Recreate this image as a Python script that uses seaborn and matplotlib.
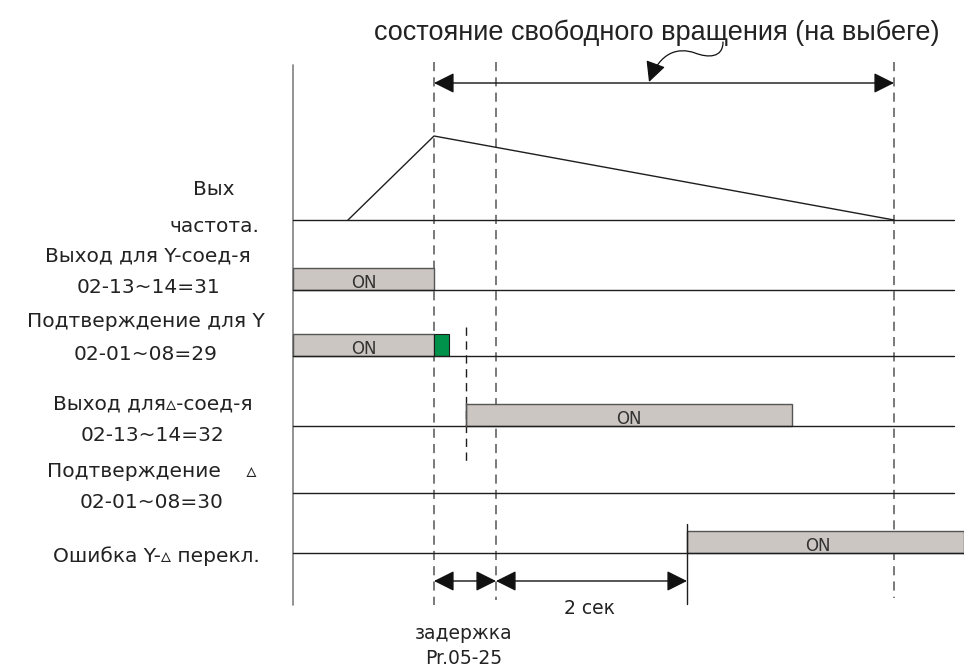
import matplotlib
matplotlib.use("Agg")
import matplotlib.pyplot as plt
from matplotlib.patches import FancyArrowPatch, ArrowStyle
from matplotlib.path import Path
import seaborn as sns
import pandas as pd

# ---------------- data (time in diagram units) ----------------
t_axis_start = 293
t_axis_end = 954
freq_t = [348, 434, 894]          # run start, fault (Y/Δ switch), stop
freq_level = [0.0, 1.0, 0.0]      # normalised output frequency

on_start = [293, 293, 466, 687]   # ON intervals per row (rows 1,2,3,5)
on_end = [434, 434, 792, 964]
on_rows = [1, 2, 3, 5]
green_interval = [434, 449]       # Y-confirm still high (row 2)

t_fault = 434
t_delay_end = 496
t_delta_on = 466
t_fault_flag = 687
t_stop = 894

row_names = ["Вых\nчастота.",
             "Выход для Y-соед-я\n02-13~14=31",
             "Подтверждение для Y\n02-01~08=29",
             "Выход для▵-соед-я\n02-13~14=32",
             "Подтверждение    ▵\n02-01~08=30",
             "Ошибка Y-▵ перекл."]
title_text = "состояние свободного вращения (на выбеге)"
delay_label = "задержка\nPr.05-25"
sec_label = "2 сек"

# ---------------- layout ----------------
row_y = [220, 290, 356, 426, 493, 553]
box_h = 22.5
freq_amp = 84

sns.set_theme(style="white")
plt.rcParams["font.family"] = ["DejaVu Sans"]

fig = plt.figure(figsize=(9.64, 6.69), dpi=100)
ax = fig.add_axes([0, 0, 1, 1])

line_c = "#1e1e1e"
dash_c = "#555555"

# frequency curve via seaborn
df = pd.DataFrame({"t": freq_t, "f": [row_y[0] - v * freq_amp for v in freq_level]})
sns.lineplot(data=df, x="t", y="f", ax=ax, color=line_c, lw=1.0, sort=False,
             estimator=None)
ax.set_xlabel("")
ax.set_ylabel("")
ax.set_xlim(0, 964)
ax.set_ylim(669, 0)
ax.axis("off")

# vertical axis
ax.plot([t_axis_start, t_axis_start], [65, 605], color="#8a8a8a", lw=1.3)

# baselines
for i, y in enumerate(row_y):
    xe = 964 if i == 5 else t_axis_end
    ax.plot([t_axis_start, xe], [y, y], color=line_c, lw=1.0, zorder=3)

# ON boxes
for s, e, r in zip(on_start, on_end, on_rows):
    y = row_y[r]
    ax.barh(y - box_h / 2, e - s, left=s, height=box_h, color="#cbc6c1",
            edgecolor="#555555", linewidth=1.0, zorder=2)
    cx = (s + e) / 2 if r != 5 else (s + e) / 2 - 8
    ax.text(cx, y - 7, "ON", ha="center", va="center", fontsize=12,
            color="#333333", zorder=4)
# green box
ax.barh(row_y[2] - box_h / 2, green_interval[1] - green_interval[0],
        left=green_interval[0], height=box_h, color="#00924a",
        edgecolor="#1d1d1d", linewidth=0.8, zorder=2)

# dashed vertical lines
dash = (0, (6, 4))
ax.plot([t_fault, t_fault], [62, 605], color=dash_c, lw=1.1, ls=dash, zorder=1)
ax.plot([t_delay_end, t_delay_end], [62, 600], color=dash_c, lw=1.1, ls=dash, zorder=1)
ax.plot([t_stop, t_stop], [62, 598], color=dash_c, lw=1.1, ls=dash, zorder=1)
ax.plot([t_delta_on, t_delta_on], [327, 462], color=line_c, lw=1.0, ls=dash, zorder=1)
# solid marker at fault flag
ax.plot([t_fault_flag, t_fault_flag], [524, 604], color=line_c, lw=1.0)
ax.plot([t_delta_on, t_delta_on], [403, 426], color="#555555", lw=1.0, zorder=3)

# double arrows
st = ArrowStyle("<|-|>", head_length=1.0, head_width=0.5)
def darrow(x0, x1, y):
    a = FancyArrowPatch((x0, y), (x1, y), arrowstyle=st, mutation_scale=12.5,
                        color="#111111", lw=1.0, shrinkA=0, shrinkB=0, zorder=5)
    ax.add_patch(a)

darrow(t_fault, t_stop, 83)
darrow(t_fault, t_delay_end, 581)
darrow(t_delay_end, t_fault_flag, 581)

# curly pointer
verts = [(723, 42), (723, 58), (708, 58), (695, 53),
         (678, 47), (660, 52), (649, 82)]
codes = [Path.MOVETO, Path.CURVE4, Path.CURVE4, Path.CURVE4,
         Path.CURVE4, Path.CURVE4, Path.CURVE4]
cp = FancyArrowPatch(path=Path(verts, codes),
                     arrowstyle=ArrowStyle("-|>", head_length=1.0, head_width=0.5),
                     mutation_scale=12.5, color="#111111", lw=0.9, zorder=5,
                     shrinkA=0, shrinkB=0)
ax.add_patch(cp)

# texts
tc = "#222222"
ax.text(657, 33, title_text, ha="center", va="center", fontsize=19.5,
        family=["Liberation Sans", "DejaVu Sans"], color=tc)

label_pos = [(214, 208), (148, 272), (146, 338), (153, 420), (152, 487), (156, 556)]
label_ls = [2.2, 1.8, 1.9, 1.8, 1.8, 1.0]
for name, (x, y), ls in zip(row_names, label_pos, label_ls):
    ax.text(x, y, name, ha="center", va="center", fontsize=14.5, color=tc,
            linespacing=ls)

ax.text(590, 608, sec_label, ha="center", va="center", fontsize=13.5, color=tc)
ax.text(464, 646, delay_label, ha="center", va="center", fontsize=13.5, color=tc,
        linespacing=1.4)

fig.savefig("out.png", dpi=100)
